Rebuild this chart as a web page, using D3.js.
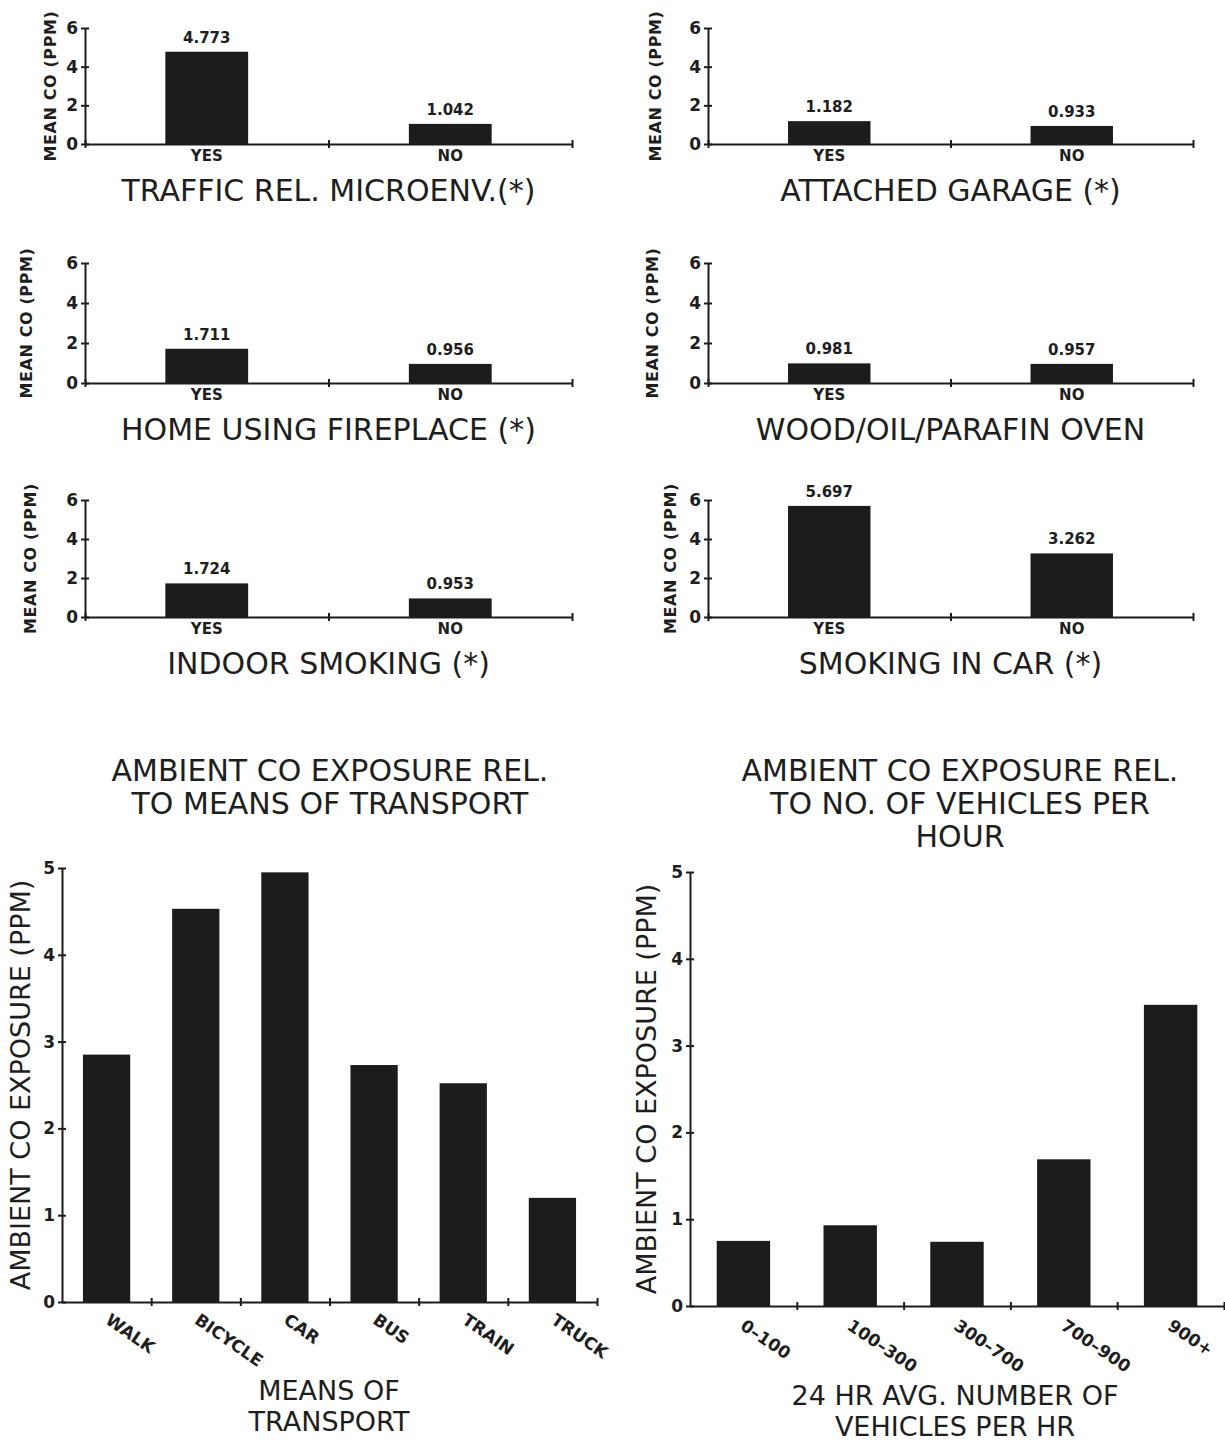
<!DOCTYPE html>
<html>
<head>
<meta charset="utf-8">
<script src="https://cdn.jsdelivr.net/npm/d3@7"></script>
<style>
  body { margin: 0; background: #fff; }
  text { font-family: "DejaVu Sans", sans-serif; fill: #1e1e1e; }
  .small { font-size: 15px; font-weight: bold; }
  .tick-num { font-size: 17px; font-weight: bold; }
  .ylab { font-size: 16px; font-weight: bold; letter-spacing: 0.6px; }
  .big { font-size: 30px; font-weight: normal; }
  .foot { font-size: 27px; font-weight: normal; }
  .slant { font-size: 17px; font-weight: bold; }
</style>
</head>
<body>
<script>
        // six small YES / NO panels
        let panelTitles = ["TRAFFIC REL. MICROENV.(*)", "ATTACHED GARAGE (*)",
                           "HOME USING FIREPLACE (*)", "WOOD/OIL/PARAFIN OVEN",
                           "INDOOR SMOKING (*)", "SMOKING IN CAR (*)"];
        let answers = ["YES", "NO"];
        let yesMeans = [4.773, 1.182, 1.711, 0.981, 1.724, 5.697];
        let noMeans = [1.042, 0.933, 0.956, 0.957, 0.953, 3.262];
        let meanTicks = [0, 2, 4, 6];

        // lower two charts
        let transportModes = ["WALK", "BICYCLE", "CAR", "BUS", "TRAIN", "TRUCK"];
        let transportCO = [2.85, 4.53, 4.95, 2.73, 2.52, 1.20];
        let vehicleBins = ["0\u2013100", "100\u2013300", "300\u2013700", "700\u2013900", "900+"];
        let vehicleCO = [0.75, 0.93, 0.74, 1.69, 3.47];
        let ambientTicks = [0, 1, 2, 3, 4, 5];

        let svg = d3.select("body").append("svg")
            .attr("width", 1225)
            .attr("height", 1448);

        let ink = "#1c1c1c";

        //cross ticks: the tick line goes through the axis
        function crossY(g) {
            g.select(".domain").attr("stroke", ink).attr("stroke-width", 2);
            g.selectAll(".tick line").attr("x1", 4).attr("stroke", ink).attr("stroke-width", 2);
            g.selectAll(".tick text").attr("class", "tick-num");
        }
        function crossX(g) {
            g.select(".domain").attr("stroke", ink).attr("stroke-width", 2);
            g.selectAll(".tick line").attr("y1", -4).attr("stroke", ink).attr("stroke-width", 2);
        }

        // panel positions (layout only)
        let colLeft = [85, 708], colRight = [572, 1193];
        let rowTop = [28, 263, 500], rowZero = [144, 383, 617];
        let yLabelX = [50, 655, 26, 652, 30, 670];

        for (var i = 0; i < panelTitles.length; i++) {
            let col = i % 2, row = Math.floor(i / 2);
            let x0 = colLeft[col], x1 = colRight[col];

            let y = d3.scaleLinear().domain([0, 6]).range([rowZero[row], rowTop[row]]);
            let x = d3.scaleBand().domain(answers).range([x0, x1]);
            let bw = x.bandwidth() * 0.34;
            let vals = [yesMeans[i], noMeans[i]];

            svg.append("g")
                .selectAll("rect")
                .data(answers)
                .join("rect")
                .attr("x", d => x(d) + (x.bandwidth() - bw) / 2)
                .attr("width", bw)
                .attr("y", (d, j) => y(vals[j]))
                .attr("height", (d, j) => y(0) - y(vals[j]))
                .attr("fill", ink);

            // value on top of the bar
            svg.append("g")
                .selectAll("text")
                .data(answers)
                .join("text")
                .attr("class", "small")
                .attr("text-anchor", "middle")
                .attr("x", d => x(d) + x.bandwidth() / 2)
                .attr("y", (d, j) => y(vals[j]) - 9)
                .text((d, j) => vals[j].toFixed(3));

            // x axis with ticks at the band edges
            let xb = d3.scaleLinear().domain([0, answers.length]).range([x0, x1]);
            svg.append("g")
                .attr("transform", `translate(0,${y(0)})`)
                .call(d3.axisBottom(xb).tickValues(d3.range(answers.length + 1)).tickFormat("").tickSize(4).tickSizeOuter(0))
                .call(crossX);

            // YES / NO
            svg.append("g")
                .attr("transform", `translate(0,${y(0)})`)
                .call(d3.axisBottom(x).tickSize(0).tickPadding(6))
                .call(g => g.select(".domain").remove())
                .call(g => g.selectAll(".tick text").attr("class", "small"));

            svg.append("g")
                .attr("transform", `translate(${x0},0)`)
                .call(d3.axisLeft(y).tickValues(meanTicks).tickFormat(d3.format("d")).tickSize(4).tickSizeOuter(0).tickPadding(3))
                .call(crossY);

            svg.append("text")
                .attr("class", "ylab")
                .attr("text-anchor", "middle")
                .attr("transform", `translate(${yLabelX[i]},${(y(0) + y(6)) / 2}) rotate(-90)`)
                .attr("dy", "0.35em")
                .text("MEAN CO (PPM)");

            svg.append("text")
                .attr("class", "big")
                .attr("text-anchor", "middle")
                .attr("x", (x0 + x1) / 2)
                .attr("y", y(0) + 57)
                .text(panelTitles[i]);
        }

        // big charts
        function bigChart(opt) {
            let y = d3.scaleLinear().domain([0, 5]).range([opt.zero, opt.top]);
            let x = d3.scaleBand().domain(opt.cats).range([opt.x0, opt.x1]);
            let bw = x.bandwidth() * opt.barFrac;

            svg.append("g")
                .selectAll("rect")
                .data(opt.cats)
                .join("rect")
                .attr("x", d => x(d) + (x.bandwidth() - bw) / 2)
                .attr("width", bw)
                .attr("y", (d, j) => y(opt.vals[j]))
                .attr("height", (d, j) => y(0) - y(opt.vals[j]))
                .attr("fill", ink);

            let xb = d3.scaleLinear().domain([0, opt.cats.length]).range([opt.x0, opt.x1]);
            svg.append("g")
                .attr("transform", `translate(0,${y(0)})`)
                .call(d3.axisBottom(xb).tickValues(d3.range(1, opt.cats.length + 1)).tickFormat("").tickSize(4).tickSizeOuter(0))
                .call(crossX);

            // slanted category names
            svg.append("g")
                .attr("transform", `translate(0,${y(0)})`)
                .call(d3.axisBottom(x).tickSize(0))
                .call(g => g.select(".domain").remove())
                .call(g => g.selectAll(".tick text")
                    .attr("class", "slant")
                    .attr("text-anchor", "start")
                    .attr("x", 0).attr("y", 0).attr("dy", "0.75em")
                    .attr("transform", opt.labelShift));

            svg.append("g")
                .attr("transform", `translate(${opt.x0},0)`)
                .call(d3.axisLeft(y).tickValues(ambientTicks).tickFormat(d3.format("d")).tickSize(4).tickSizeOuter(0).tickPadding(3))
                .call(crossY);

            svg.append("text")
                .attr("class", "foot")
                .attr("text-anchor", "middle")
                .attr("transform", `translate(${opt.labelX},${(y(0) + y(5)) / 2}) rotate(-90)`)
                .attr("dy", "0.35em")
                .text("AMBIENT CO EXPOSURE (PPM)");

            svg.append("g")
                .selectAll("text")
                .data(opt.head)
                .join("text")
                .attr("class", "big")
                .attr("text-anchor", "middle")
                .attr("x", opt.headX)
                .attr("y", (d, k) => 781 + k * 33)
                .text(d => d);

            svg.append("g")
                .selectAll("text")
                .data(opt.foot)
                .join("text")
                .attr("class", "foot")
                .attr("text-anchor", "middle")
                .attr("x", opt.footX)
                .attr("y", (d, k) => opt.footY + k * 31)
                .text(d => d);
        }

        bigChart({
            cats: transportModes, vals: transportCO,
            x0: 62, x1: 597, zero: 1302, top: 868, barFrac: 0.53,
            labelX: 21, labelShift: "translate(5,10) rotate(35)",
            head: ["AMBIENT CO EXPOSURE REL.", "TO MEANS OF TRANSPORT"], headX: 330,
            foot: ["MEANS OF", "TRANSPORT"], footX: 329, footY: 1400
        });

        bigChart({
            cats: vehicleBins, vals: vehicleCO,
            x0: 690, x1: 1224, zero: 1306, top: 872, barFrac: 0.5,
            labelX: 647, labelShift: "translate(3,12) rotate(34)",
            head: ["AMBIENT CO EXPOSURE REL.", "TO NO. OF VEHICLES PER", "HOUR"], headX: 960,
            foot: ["24 HR AVG. NUMBER OF", "VEHICLES PER HR"], footX: 955, footY: 1405
        });
</script>
</body>
</html>
